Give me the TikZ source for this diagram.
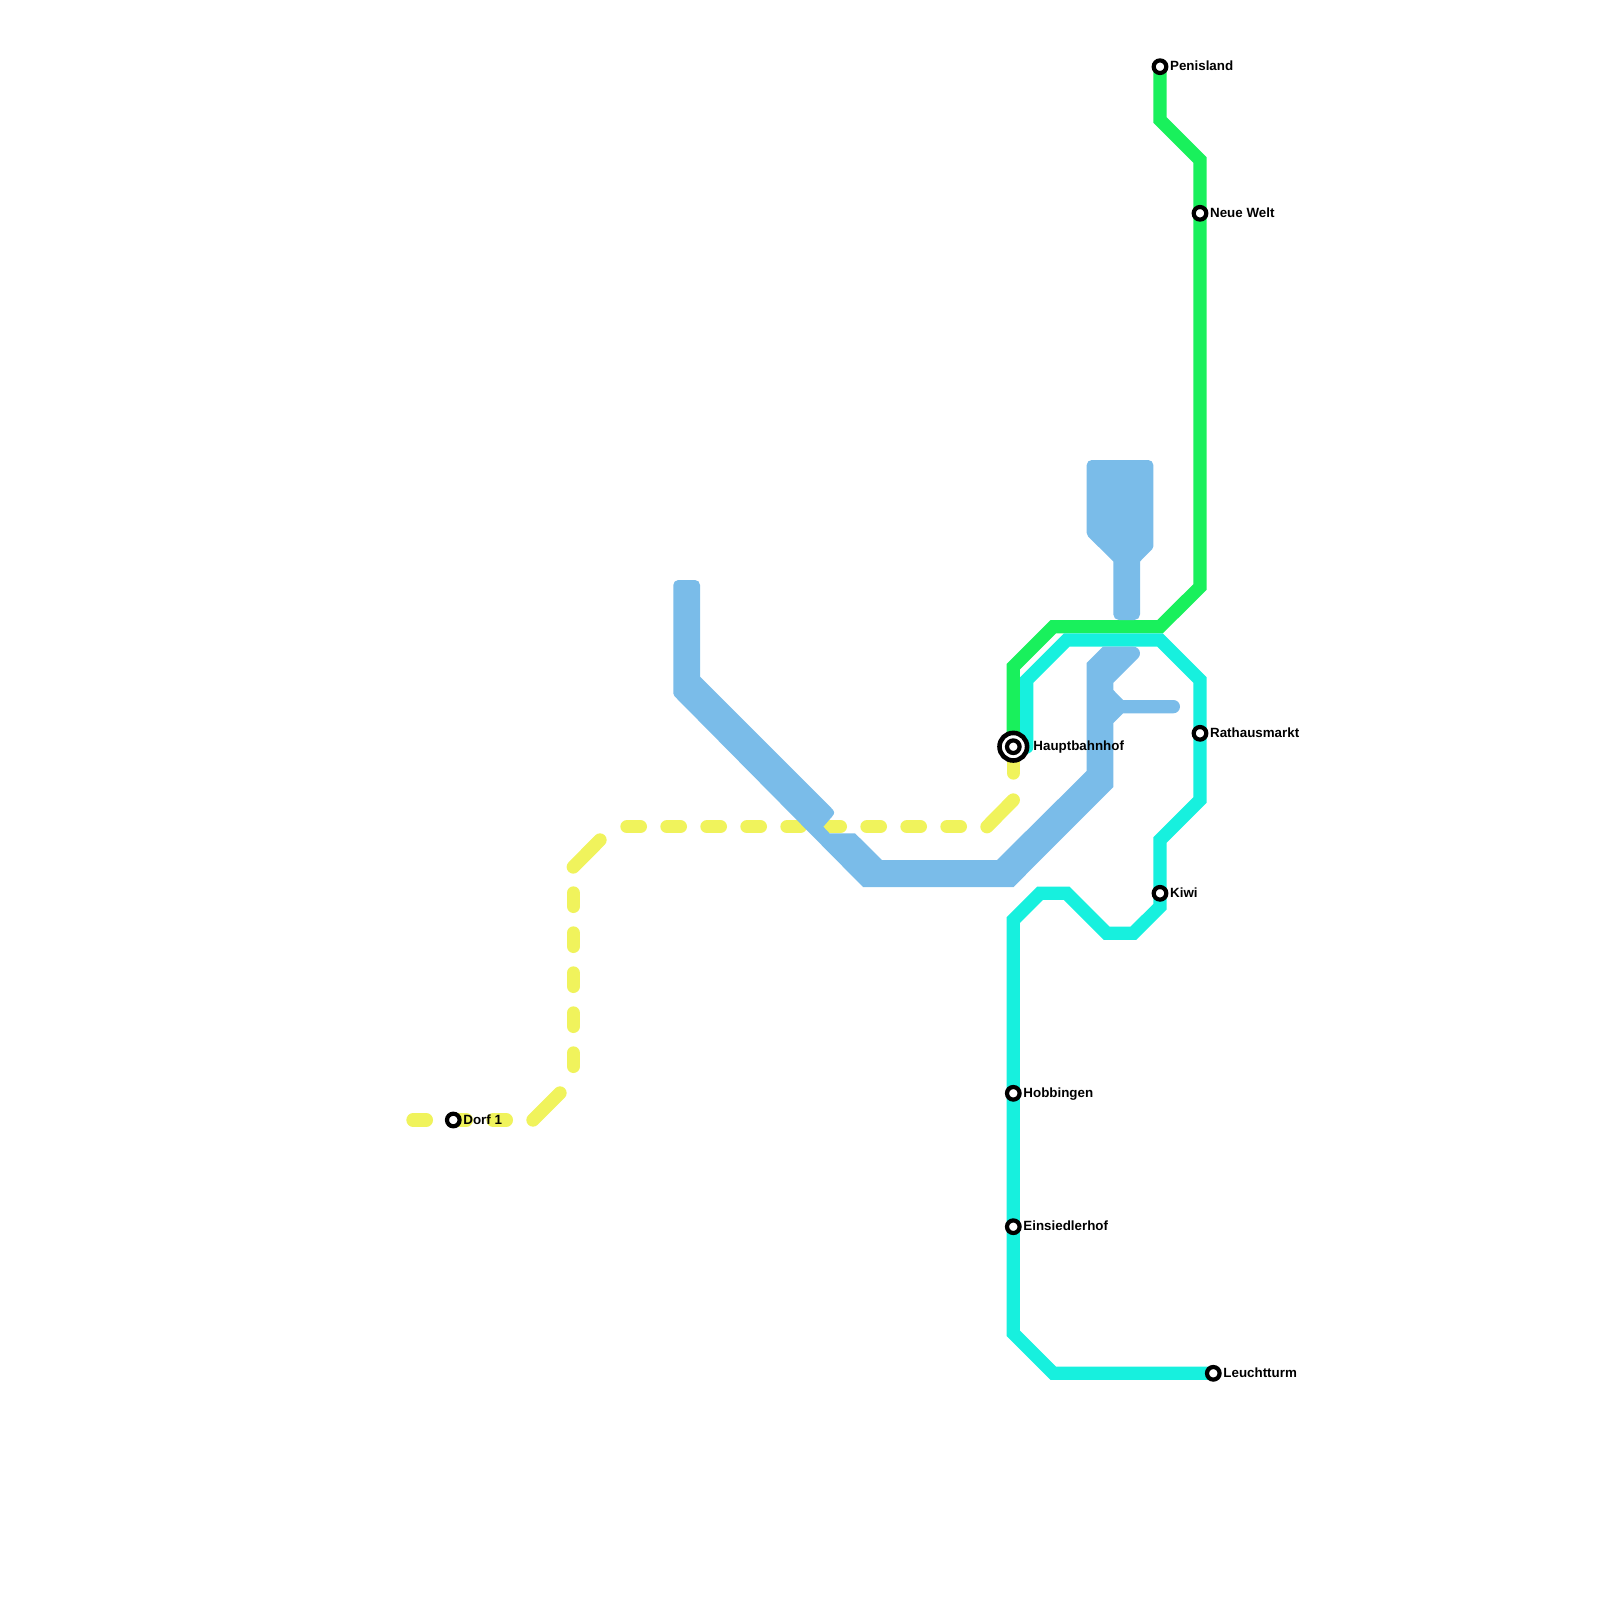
\documentclass[tikz,border=0pt]{standalone}
\usepackage{fontspec}
\setmainfont{Liberation Sans}
\definecolor{lineyellow}{HTML}{F0F35C}
\definecolor{linegreen}{HTML}{19F05C}
\definecolor{lineteal}{HTML}{17F0DE}
\definecolor{lineblue}{HTML}{7ABCE9}
\tikzset{
  route/.style={line width=0.6667cm,line cap=round,line join=miter,miter limit=4},
  yellowroute/.style={route,draw=lineyellow},
  greenroute/.style={route,draw=linegreen},
  tealroute/.style={route,draw=lineteal},
  blueblock/.style={fill=lineblue},
  stop/.style={circle,draw=black,fill=white,line width=0.21cm,minimum size=0.63cm,inner sep=0pt},
  hubouter/.style={circle,draw=black,fill=white,line width=0.23cm,minimum size=1.38cm,inner sep=0pt},
  stoplabel/.style={anchor=base west,inner sep=0pt,font=\fontsize{19}{19}\selectfont\bfseries}
}
\begin{document}
\begin{tikzpicture}[x=0.05cm,y=-0.05cm]
\useasboundingbox (0,0) rectangle (1600,1600);
% yellow dashed route
\foreach \a in {413,453,493}{\draw[yellowroute] (\a,1120) -- +(13.33,0);}
\draw[yellowroute] (533,1120) -- (560,1093);
\foreach \a in {893,933,973,1013,1053}{\draw[yellowroute] (573.3,\a) -- +(0,13.33);}
\draw[yellowroute] (573.3,867) -- (600,840);
\foreach \a in {627,667,707,747,787,827,867,907,947}{\draw[yellowroute] (\a,826.7) -- +(13.33,0);}
\draw[yellowroute] (987,826.7) -- (1013.3,800);
\draw[yellowroute] (1013.3,747) -- (1013.3,773);
% green
\draw[greenroute] (1160,66.7) -- (1160,120) -- (1200,160) -- (1200,587) -- (1160,626.7) -- (1053.3,626.7) -- (1013.3,666.7) -- (1013.3,747);
% teal
\draw[tealroute] (1026.7,747) -- (1026.7,680) -- (1066.7,640) -- (1160,640) -- (1200,680) -- (1200,800) -- (1160,840) -- (1160,906.7) -- (1133.3,933.3) -- (1106.7,933.3) -- (1066.7,893.3) -- (1040,893.3) -- (1013.3,920) -- (1013.3,1333.3) -- (1053.3,1373.3) -- (1213.3,1373.3);
% blue masses
\fill[blueblock] (1140,561.5) [rounded corners=0.08cm] -- (1153.3,548) [rounded corners=0.25cm] -- (1153.3,460) -- (1086.7,460) [rounded corners=0.1cm] -- (1086.7,535) [sharp corners] -- (1113.3,561.5) [rounded corners=0.28cm] -- (1113.3,620) -- (1140,620) [sharp corners] -- cycle;
\fill[blueblock] (700,676.7) -- (831,807.7) .. controls (835,811.7) and (835,813) .. (832,816.7) -- (823.3,826.7) -- (829.5,833.3) -- (855,833.3) -- (882,860) -- (997,860) -- (1086.7,771) -- (1086.7,663) -- (1103,646.7) -- (1133.3,646.7) arc[start angle=-90,end angle=45,radius=6.67] -- (1113.3,682.7) -- (1113.3,690) -- (1123,700) [rounded corners=0.333cm] -- (1180,700) -- (1180,713.3) [sharp corners] -- (1123,713.3) -- (1113.3,723) -- (1113.3,787) -- (1013.5,887) -- (863,887) [rounded corners=0.08cm] -- (673.3,695) [rounded corners=0.25cm] -- (673.3,580) -- (700,580) [sharp corners] -- cycle;
% stations
\node[stop] (dorf) at (453.3,1120) {};
\node[stoplabel] (dorflabel) at (463.3,1124) {Dorf 1};
\node[stop] (penisland) at (1160,66.7) {};
\node[stoplabel] (penislandlabel) at (1170,70.6) {Penisland};
\node[stop] (neuewelt) at (1200,213.3) {};
\node[stoplabel] (neueweltlabel) at (1210,217.2) {Neue Welt};
\node[stop] (rathaus) at (1200,733.3) {};
\node[stoplabel] (rathauslabel) at (1210,737.2) {Rathausmarkt};
\node[stop] (kiwi) at (1160,893.3) {};
\node[stoplabel] (kiwilabel) at (1170,897.2) {Kiwi};
\node[stop] (hobbingen) at (1013.3,1093.3) {};
\node[stoplabel] (hobbingenlabel) at (1023.3,1097.2) {Hobbingen};
\node[stop] (einsiedlerhof) at (1013.3,1226.7) {};
\node[stoplabel] (einsiedlerhoflabel) at (1023.3,1230.6) {Einsiedlerhof};
\node[stop] (leuchtturm) at (1213.3,1373.3) {};
\node[stoplabel] (leuchtturmlabel) at (1223.3,1377.2) {Leuchtturm};
\node[hubouter] (hubring) at (1013.3,746.7) {};
\node[stop] (hub) at (1013.3,746.7) {};
\node[stoplabel] (hublabel) at (1033.3,750.6) {Hauptbahnhof};
\end{tikzpicture}
\end{document}
